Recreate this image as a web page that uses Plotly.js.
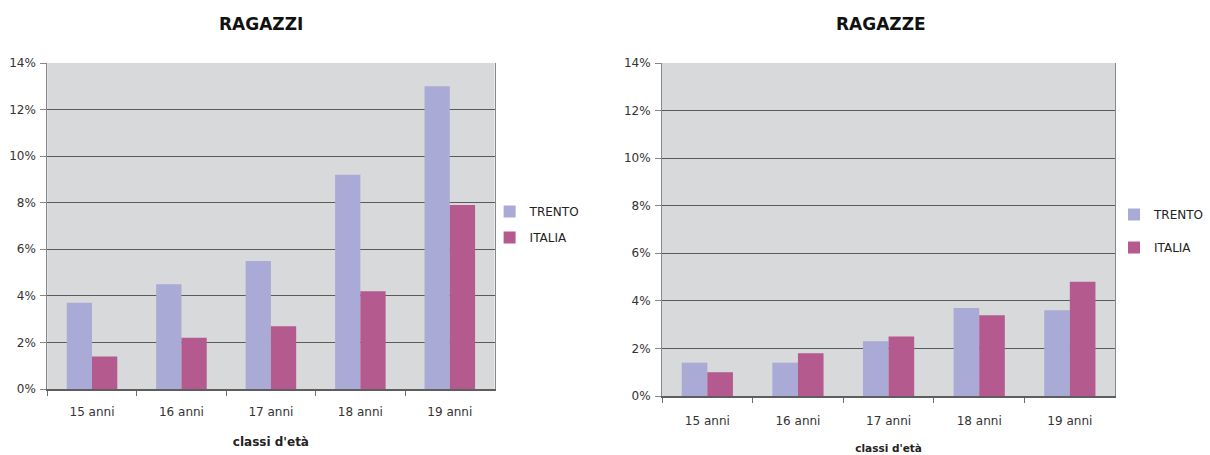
<!DOCTYPE html>
<html>
<head>
<meta charset="utf-8">
<script src="https://cdn.plot.ly/plotly-3.0.1.min.js"></script>
<style>
  html, body { margin: 0; padding: 0; background: #ffffff; }
  #chart { width: 1210px; height: 455px; }
</style>
</head>
<body>
<div id="chart"></div>
<script>
// Age classes shown on both panels
const classi = ['15 anni', '16 anni', '17 anni', '18 anni', '19 anni'];

// Boys (RAGAZZI), percentages
const ragazziTrento = [3.7, 4.5, 5.5, 9.2, 13.0];
const ragazziItalia = [1.4, 2.2, 2.7, 4.2, 7.9];

// Girls (RAGAZZE), percentages
const ragazzeTrento = [1.4, 1.4, 2.3, 3.7, 3.6];
const ragazzeItalia = [1.0, 1.8, 2.5, 3.4, 4.8];

const colTrento = '#aaaad6';
const colItalia = '#b45a8e';
const FONT = '"DejaVu Sans", Verdana, sans-serif';

const W = 1210, H = 455;
const px = v => v / W;          // horizontal pixel -> paper fraction
const py = v => 1 - v / H;      // vertical pixel (from top) -> paper fraction

const traces = [
  { type: 'bar', name: 'TRENTO', x: classi, y: ragazziTrento, xaxis: 'x', yaxis: 'y',
    marker: { color: colTrento }, legend: 'legend', legendgroup: 'a' },
  { type: 'bar', name: 'ITALIA', x: classi, y: ragazziItalia, xaxis: 'x', yaxis: 'y',
    marker: { color: colItalia }, legend: 'legend', legendgroup: 'b' },
  { type: 'bar', name: 'TRENTO', x: classi, y: ragazzeTrento, xaxis: 'x2', yaxis: 'y2',
    marker: { color: colTrento }, legend: 'legend2', legendgroup: 'c' },
  { type: 'bar', name: 'ITALIA', x: classi, y: ragazzeItalia, xaxis: 'x2', yaxis: 'y2',
    marker: { color: colItalia }, legend: 'legend2', legendgroup: 'd' }
];

function xAxis(domain, anchor, labelStandoff, titleSize, titleStandoff) {
  return {
    domain: domain, anchor: anchor,
    type: 'category',
    showgrid: false,
    showline: true, linecolor: '#5e5e5e', linewidth: 2, mirror: false,
    ticks: 'outside', ticklen: 5, tickcolor: '#6e6e6e', tickson: 'boundaries',
    ticklabelstandoff: labelStandoff,
    tickfont: { family: FONT, size: 12, color: '#333333' },
    title: { text: "<b>classi d'età</b>", font: { family: FONT, size: titleSize, color: '#222222' },
             standoff: titleStandoff },
    automargin: false, fixedrange: true
  };
}

function yAxis(domain, anchor) {
  return {
    domain: domain, anchor: anchor,
    range: [0, 14], dtick: 2, ticksuffix: '%',
    showgrid: true, gridcolor: '#5a5a5a', gridwidth: 1,
    showline: true, linecolor: '#888888', linewidth: 1, mirror: true,
    ticks: 'outside', ticklen: 6, tickcolor: '#888888',
    ticklabelstandoff: 2,
    tickfont: { family: FONT, size: 12, color: '#333333' },
    zeroline: false, automargin: false, fixedrange: true
  };
}

const legendStyle = (x, y, gap) => ({
  x: x, y: y, xanchor: 'left', yanchor: 'top',
  bgcolor: 'rgba(0,0,0,0)', borderwidth: 0,
  font: { family: FONT, size: 12, color: '#222222' },
  traceorder: 'grouped', tracegroupgap: gap,
  itemwidth: 30
});

const layout = {
  width: W, height: H,
  margin: { l: 0, r: 0, t: 0, b: 0 },
  paper_bgcolor: '#ffffff',
  plot_bgcolor: '#d8d9da',
  barmode: 'group', bargap: 0.435, bargroupgap: 0,
  showlegend: true,
  xaxis: xAxis([px(48), px(502)], 'y', 11, 12, 19),
  yaxis: yAxis([py(389), py(63)], 'x'),
  xaxis2: xAxis([px(672), px(1132)], 'y2', 13, 10.5, 17),
  yaxis2: yAxis([py(396), py(63)], 'x2'),
  legend: legendStyle(px(497), py(197), 7),
  legend2: legendStyle(px(1131), py(200), 14),
  annotations: [
    { text: '<b>RAGAZZI</b>', xref: 'paper', yref: 'paper', x: px(265), y: py(24),
      xanchor: 'center', yanchor: 'middle', showarrow: false,
      font: { family: FONT, size: 17, color: '#111111' } },
    { text: '<b>RAGAZZE</b>', xref: 'paper', yref: 'paper', x: px(894), y: py(24),
      xanchor: 'center', yanchor: 'middle', showarrow: false,
      font: { family: FONT, size: 17, color: '#111111' } }
  ]
};

Plotly.newPlot('chart', traces, layout, { displayModeBar: false, staticPlot: true });
</script>
</body>
</html>
